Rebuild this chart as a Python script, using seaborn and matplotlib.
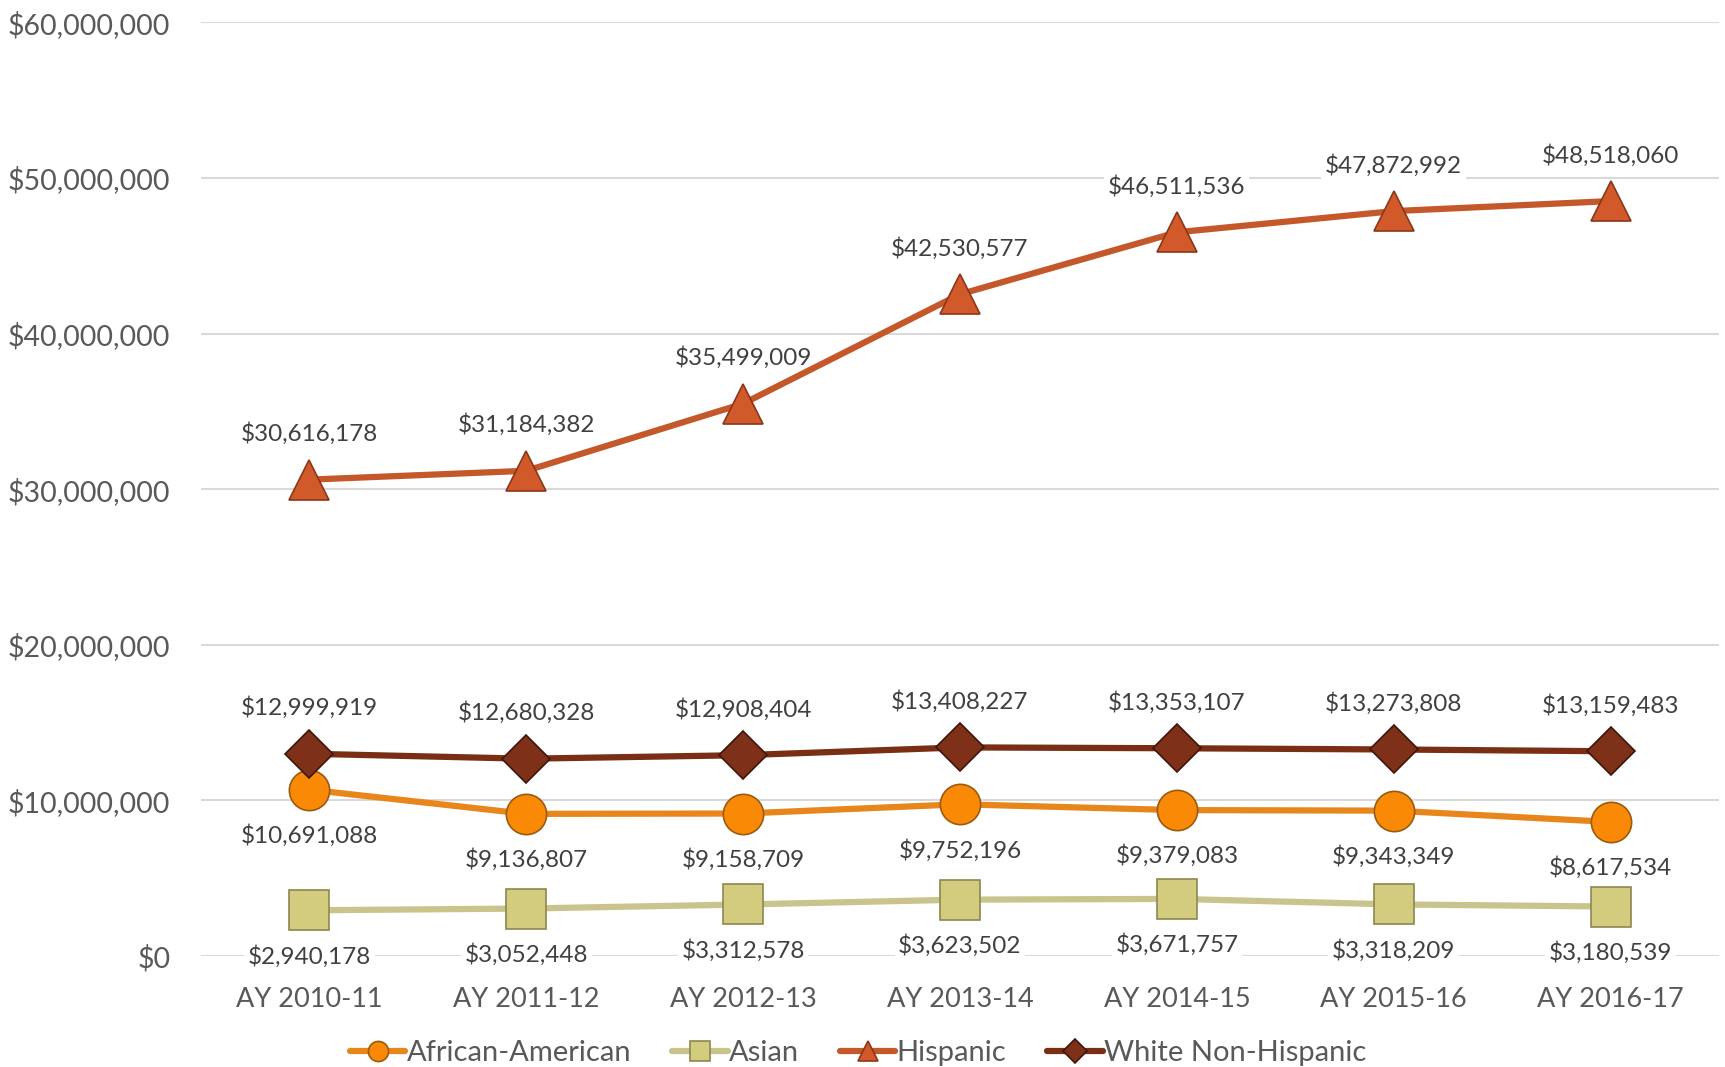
import matplotlib
matplotlib.use("Agg")
import matplotlib.pyplot as plt
import seaborn as sns
import pandas as pd

years = ["AY 2010-11", "AY 2011-12", "AY 2012-13", "AY 2013-14",
         "AY 2014-15", "AY 2015-16", "AY 2016-17"]
african_american = [10691088, 9136807, 9158709, 9752196, 9379083, 9343349, 8617534]
asian = [2940178, 3052448, 3312578, 3623502, 3671757, 3318209, 3180539]
hispanic = [30616178, 31184382, 35499009, 42530577, 46511536, 47872992, 48518060]
white = [12999919, 12680328, 12908404, 13408227, 13353107, 13273808, 13159483]

series = [
    # name, values, line color, marker, face, edge, label side
    ("African-American", african_american, "#E8861C", "o", "#FA8A05", "#9A5A10", "below"),
    ("Asian", asian, "#C8C48C", "s", "#D3CB7E", "#8E8750", "below"),
    ("Hispanic", hispanic, "#C4582A", "^", "#D2592A", "#8A3618", "above"),
    ("White Non-Hispanic", white, "#7A2E14", "D", "#7E3118", "#3E160A", "above"),
]

sns.set_style("white")
plt.rcParams["font.family"] = ["Lato", "DejaVu Sans"]

fig = plt.figure(figsize=(17.25, 10.67), dpi=100)
ax = fig.add_axes([0.1165, 0.104, 0.88, 0.875])

x = list(range(len(years)))
for name, vals, lc, mk, fc, ec, side in series:
    df = pd.DataFrame({"x": x, "y": vals})
    sns.lineplot(data=df, x="x", y="y", ax=ax, color=lc, linewidth=4.5,
                 marker=mk, markersize=29 if mk != "D" else 24,
                 markerfacecolor=fc, markeredgecolor=ec, markeredgewidth=1.2,
                 label=name, zorder=3)
    for xi, v in zip(x, vals):
        off = 33 if side == "above" else -33
        ax.annotate(f"${v:,.0f}", (xi, v), xytext=(0, off), textcoords="offset points",
                    ha="center", va="center", fontsize=17.5, color="#404040",
                    bbox=dict(boxstyle="square,pad=0.15", fc="white", ec="none"),
                    zorder=2)

ax.set_xlim(-0.5, len(years) - 0.5)
ax.set_ylim(0, 60000000)
ax.set_yticks(range(0, 60000001, 10000000))
ax.set_yticklabels([f"${t:,.0f}" for t in range(0, 60000001, 10000000)])
ax.set_xticks(x)
ax.set_xticklabels(years)
ax.set_xlabel("")
ax.set_ylabel("")
ax.grid(axis="y", color="#D9D9D9", linewidth=1.5, zorder=0)
ax.set_axisbelow(True)
for s in ["top", "right", "left", "bottom"]:
    ax.spines[s].set_visible(False)
ax.tick_params(axis="y", labelsize=20.5, labelcolor="#595959", length=0, pad=22)
ax.tick_params(axis="x", labelsize=19.5, labelcolor="#595959", length=0, pad=22)

ax.legend(loc="center", bbox_to_anchor=(0.433, -0.104), ncol=4, frameon=False,
          fontsize=21, labelcolor="#595959", handlelength=1.9, handletextpad=0.05,
          columnspacing=1.4, markerscale=0.5)

fig.savefig("out.png", dpi=100)
